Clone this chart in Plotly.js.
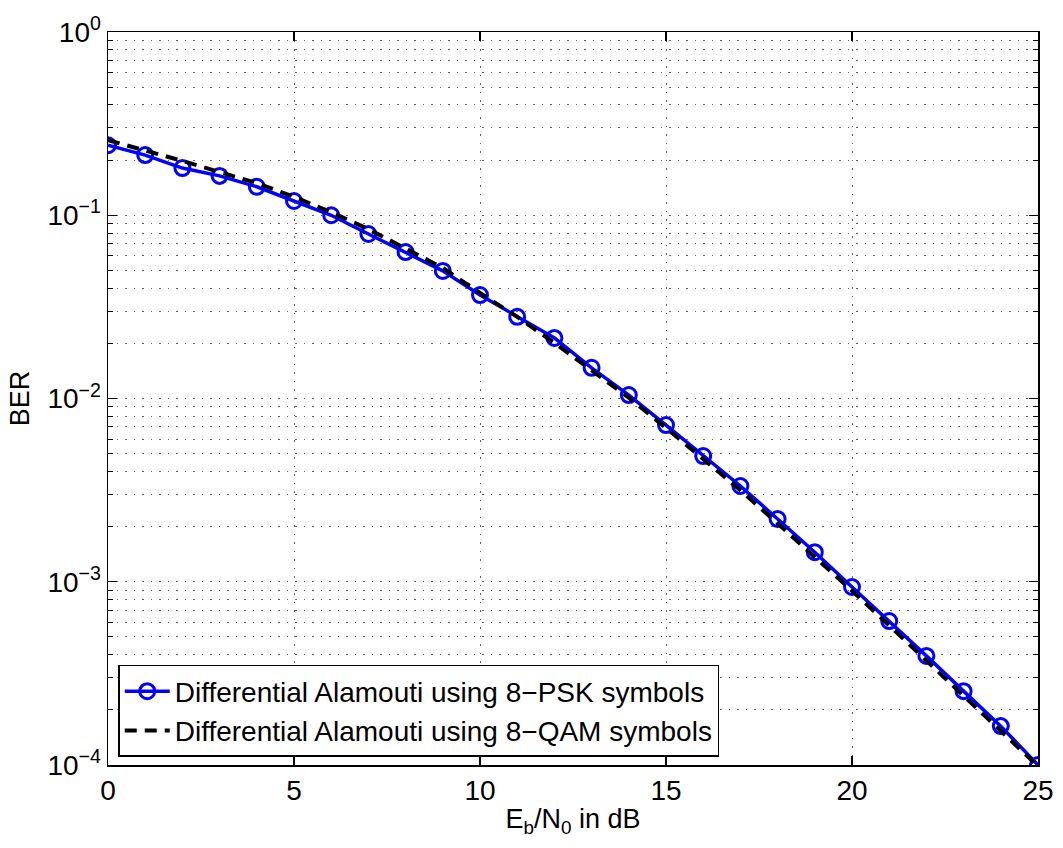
<!DOCTYPE html>
<html>
<head>
<meta charset="utf-8">
<script src="https://cdn.plot.ly/plotly-3.0.1.min.js"></script>
<style>
  html, body { margin: 0; padding: 0; background: #fff; }
  #chart { width: 1063px; height: 848px; }
</style>
</head>
<body>
<div id="chart"></div>
<script>
// Eb/N0 grid in dB
const ebn0 = [0, 1, 2, 3, 4, 5, 6, 7, 8, 9, 10, 11, 12, 13, 14, 15, 16, 17, 18, 19, 20, 21, 22, 23, 24, 25];

// Simulated BER, differential Alamouti with 8-PSK
const berPsk = [0.241, 0.213, 0.181, 0.164, 0.143, 0.1196, 0.100, 0.079, 0.063, 0.0497,
                0.0367, 0.0279, 0.0214, 0.0147, 0.01044, 0.00716, 0.00485, 0.00333, 0.0022, 0.00145,
                0.000936, 0.00061, 0.000394, 0.000253, 0.000163, 0.0001];

// BER, differential Alamouti with 8-QAM
const berQam = [0.257, 0.227, 0.198, 0.172, 0.150, 0.126, 0.104, 0.084, 0.066, 0.0516,
                0.0377, 0.0279, 0.0201, 0.0143, 0.0101, 0.00691, 0.00466, 0.00316, 0.00208, 0.00137,
                0.000893, 0.000577, 0.000371, 0.000239, 0.000153, 0.0000985];

const xTicks = [0, 5, 10, 15, 20, 25];
const yTicks = [1e-4, 1e-3, 1e-2, 1e-1, 1];
const yTickText = ['10<sup>\u22124</sup>', '10<sup>\u22123</sup>', '10<sup>\u22122</sup>', '10<sup>\u22121</sup>', '10<sup>0</sup>'];

const labelPsk = 'Differential Alamouti using 8\u2212PSK symbols';
const labelQam = 'Differential Alamouti using 8\u2212QAM symbols';

// minor log ticks 2..9 in every decade
const yMinor = [];
for (let e = -4; e < 0; e++) {
  for (let d = 2; d <= 9; d++) yMinor.push(d * Math.pow(10, e));
}

const FONT = '"Liberation Sans", Arial, Helvetica, sans-serif';
const GRID_DASH = '1.5px,7px';
const GRID_COLOR = '#666';

const traces = [
  {
    x: ebn0, y: berPsk, name: labelPsk,
    type: 'scatter', mode: 'lines+markers',
    line: { color: '#0000ff', width: 3.5 },
    marker: { symbol: 'circle-open', size: 15, color: '#0000ff', line: { width: 3, color: '#0000ff' } }
  },
  {
    x: ebn0, y: berQam, name: labelQam,
    type: 'scatter', mode: 'lines',
    line: { color: '#000000', width: 4, dash: '12px,8px' }
  }
];

const layout = {
  width: 1063, height: 848,
  margin: { l: 108, r: 25, t: 32, b: 83 },
  paper_bgcolor: '#fff', plot_bgcolor: '#fff',
  font: { family: FONT, color: '#000', size: 24 },
  showlegend: true,
  legend: {
    x: 0.011, y: 0.011, xanchor: 'left', yanchor: 'bottom',
    bgcolor: '#fff', bordercolor: '#000', borderwidth: 1.5,
    font: { family: FONT, size: 28, color: '#000' },
    itemwidth: 45,
    tracegroupgap: 0
  },
  xaxis: {
    type: 'linear', range: [0, 25],
    tickmode: 'array', tickvals: xTicks, ticktext: xTicks.map(String),
    ticks: 'inside', ticklen: 9, tickwidth: 1.2, tickcolor: '#000',
    showline: true, linecolor: '#000', linewidth: 1.5, mirror: 'ticks',
    showgrid: true, gridcolor: GRID_COLOR, gridwidth: 1, griddash: GRID_DASH,
    zeroline: false,
    tickfont: { family: FONT, size: 28, color: '#000' },
    title: { text: 'E<sub>b</sub>/N<sub>0</sub> in dB', font: { family: FONT, size: 27, color: '#000' }, standoff: 4 }
  },
  yaxis: {
    type: 'log', range: [-4, 0],
    tickmode: 'array', tickvals: yTicks, ticktext: yTickText,
    ticks: 'inside', ticklen: 9, tickwidth: 1.2, tickcolor: '#000',
    showline: true, linecolor: '#000', linewidth: 1.5, mirror: 'ticks',
    showgrid: true, gridcolor: GRID_COLOR, gridwidth: 1, griddash: GRID_DASH,
    zeroline: false,
    tickfont: { family: FONT, size: 28, color: '#000' },
    minor: {
      tickmode: 'array', tickvals: yMinor,
      ticks: 'inside', ticklen: 5, tickwidth: 1, tickcolor: '#000',
      showgrid: true, gridcolor: GRID_COLOR, gridwidth: 1, griddash: GRID_DASH
    },
    title: { text: 'BER', font: { family: FONT, size: 27, color: '#000' }, standoff: 10 }
  }
};

Plotly.newPlot('chart', traces, layout, { displayModeBar: false, staticPlot: true });
</script>
</body>
</html>
